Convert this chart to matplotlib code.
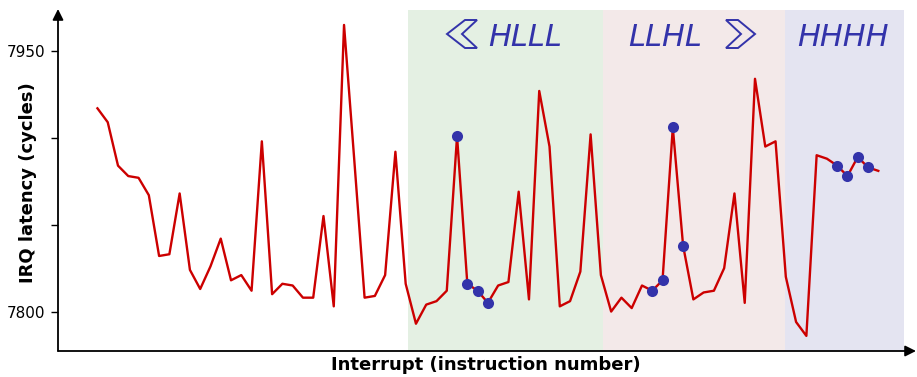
import numpy as np
import matplotlib
matplotlib.use("Agg")
import matplotlib.pyplot as plt
from matplotlib.patches import Polygon

# latency per interrupt (cycles)
latency = [7917, 7909, 7884, 7878, 7877, 7867, 7832, 7833, 7868, 7824,
           7813, 7826, 7842, 7818, 7821, 7812, 7898, 7810, 7816, 7815,
           7808, 7808, 7855, 7803, 7965, 7887, 7808, 7809, 7821, 7892,
           7816, 7793, 7804, 7806, 7812, 7901, 7816, 7812, 7805, 7815,
           7817, 7869, 7807, 7927, 7895, 7803, 7806, 7823, 7902, 7821,
           7800, 7808, 7802, 7815, 7812, 7818, 7906, 7838, 7807, 7811,
           7812, 7825, 7868, 7805, 7934, 7895, 7898, 7820, 7794, 7786,
           7890, 7888, 7884, 7878, 7889, 7883, 7881]
highlight = [35, 36, 37, 38, 54, 55, 56, 57, 72, 73, 74, 75]

region_labels = ["HLLL", "LLHL", "HHHH"]
region_edges = [30.2, 49.2, 66.9, 78.5]
region_colors = ["#e4f0e3", "#f3e9e9", "#e4e4f1"]
label_x = [41.6, 55.3, 72.6]

yticks = [7800, 7850, 7900, 7950]
yticklabels = ["7800", "", "", "7950"]

W, H = 917, 377
fig = plt.figure(figsize=(W / 100, H / 100), dpi=100)
ax = fig.add_axes([58 / W, 26 / H, (905 - 58) / W, (351 - 10) / H])

x = np.arange(len(latency))
lat = np.array(latency)

for i in range(3):
    ax.axvspan(region_edges[i], region_edges[i + 1], color=region_colors[i], lw=0, zorder=0)
    ax.text(label_x[i], 7953, region_labels[i], style="italic", fontsize=22,
            color="#3333aa", ha="center", va="baseline")

ax.plot(x, lat, color="#cc0000", lw=1.7, zorder=2)
ax.plot(x[highlight], lat[highlight], "o", color="#3333aa", ms=8, mec="none", zorder=3)

ax.set_xlim(-3.84, 78.6)
ax.set_ylim(7777.3, 7973.6)
ax.set_xticks([])
ax.set_yticks(yticks)
ax.set_yticklabels(yticklabels, fontsize=11)
ax.tick_params(axis="y", length=5, width=1, pad=4)
for s in ["top", "right", "bottom", "left"]:
    ax.spines[s].set_visible(False)

ax.set_ylabel("IRQ latency (cycles)", fontsize=13, fontweight="bold")
ax.yaxis.set_label_coords(-0.025, 0.494)
ax.set_xlabel("Interrupt (instruction number)", fontsize=13, fontweight="bold")
ax.xaxis.set_label_coords(0.505, -0.015)

# axis arrows
arrow = dict(arrowstyle="-|>", lw=1.3, color="black", mutation_scale=16,
             shrinkA=0, shrinkB=0)
ax.annotate("", xy=(916 / W, 26 / H), xytext=(58 / W, 26 / H),
            xycoords="figure fraction", textcoords="figure fraction", arrowprops=arrow)
ax.annotate("", xy=(58 / W, 368 / H), xytext=(58 / W, 26 / H),
            xycoords="figure fraction", textcoords="figure fraction", arrowprops=arrow)

# chevron decorations (figure pixel coords, y from top)
left_chev = [(447, 34), (465, 20), (477, 20), (462, 34), (477, 48), (465, 48)]
right_chev = [(726, 20), (738, 20), (755, 34), (738, 48), (726, 48), (741, 34)]
for pts in (left_chev, right_chev):
    fp = [(px / W, 1 - py / H) for px, py in pts]
    fig.patches.append(Polygon(fp, closed=True, fill=False, ec="#3333aa", lw=1.4,
                               transform=fig.transFigure, figure=fig))

fig.savefig("out.png", dpi=100)
